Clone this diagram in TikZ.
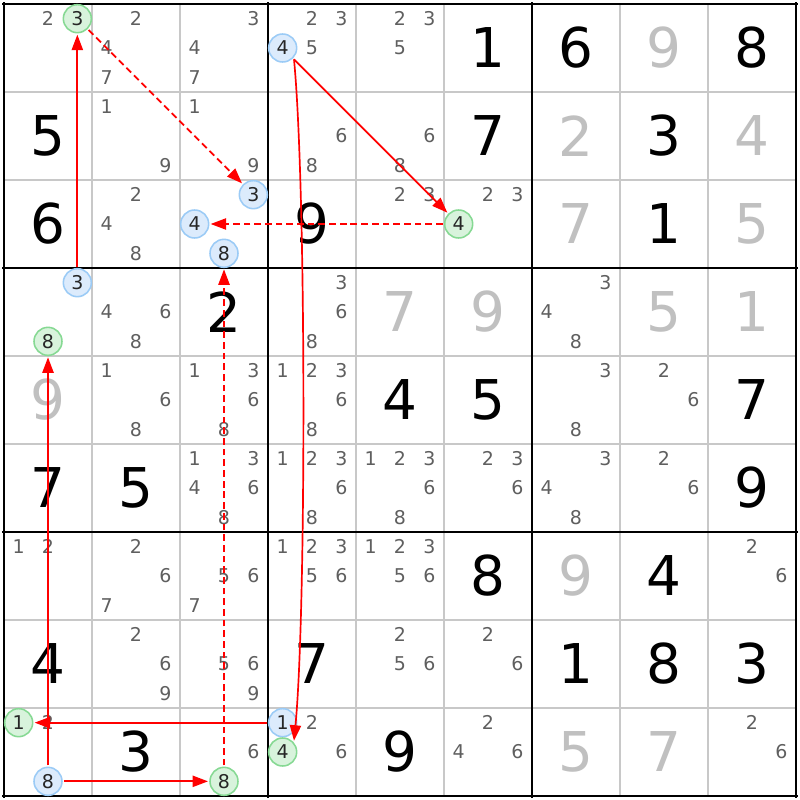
\documentclass[tikz,border=0pt]{standalone}
\usepackage{fontspec}
\setmainfont{DejaVu Sans}
\usepackage{tikz}
\usetikzlibrary{arrows.meta, calc}
\definecolor{candgrey}{HTML}{5F5F5F}
\definecolor{solvedgrey}{HTML}{C0C0C0}
\definecolor{gridgrey}{HTML}{C8C8C8}
\definecolor{ringgreen}{HTML}{86D993}
\definecolor{fillgreen}{HTML}{D8F3DC}
\definecolor{ringblue}{HTML}{9BCBF6}
\definecolor{fillblue}{HTML}{DCEBFC}
\tikzset{
  cand/.style={font=\fontsize{13.5}{13.5}\selectfont, text=candgrey, inner sep=0pt},
  bigdigit/.style={font=\fontsize{39}{39}\selectfont, inner sep=0pt},
  greydigit/.style={bigdigit, text=solvedgrey},
  ring/.style={circle, line width=1.1pt, minimum size=0.7cm, inner sep=0pt,
    outer sep=0.05cm, text=black!85, font=\fontsize{13.5}{13.5}\selectfont},
  greenring/.style={ring, draw=ringgreen, fill=fillgreen},
  bluering/.style={ring, draw=ringblue, fill=fillblue},
  link/.style={red, line width=1.2pt},
  weaklink/.style={link, dash pattern=on 4.8pt off 2.8pt}
}
% row, column, list of candidates
\newcommand{\cands}[3]{%
  \foreach \cd in {#3}{%
    \pgfmathsetmacro{\cx}{#2-1+(mod(\cd-1,3)+0.5)/3}%
    \pgfmathsetmacro{\cy}{#1-1+(floor((\cd-1)/3)+0.5)/3}%
    \node[cand] (c#1#2n\cd) at (\cx,\cy) {\cd};%
  }}
% style, row, column, candidate
\newcommand{\hlcand}[4]{%
  \pgfmathsetmacro{\cx}{#3-1+(mod(#4-1,3)+0.5)/3}%
  \pgfmathsetmacro{\cy}{#2-1+(floor((#4-1)/3)+0.5)/3}%
  \node[#1] (r#2c#3n#4) at (\cx,\cy) {#4};}
\newcommand{\givendigit}[3]{\node[bigdigit] (g#1#2) at (#2-0.5,#1-0.5) {#3};}
\newcommand{\solveddigit}[3]{\node[greydigit] (s#1#2) at (#2-0.5,#1-0.5) {#3};}

\begin{document}
\begin{tikzpicture}[x=2.2cm, y=-2.2cm, >={Triangle[length=11pt,width=8pt]}]
        \useasboundingbox (-0.0455,-0.0455) rectangle (9.0455,9.0455);
        \fill[white] (-0.0455,-0.0455) rectangle (9.0455,9.0455);

        % grid
        \foreach \i in {1,2,4,5,7,8} {
            \draw[gridgrey, line width=1pt] (\i,0) -- (\i,9);
            \draw[gridgrey, line width=1pt] (0,\i) -- (9,\i);
        }
        \foreach \i in {0,3,6,9} {
            \draw[black, line width=2.1pt] (\i,-0.02) -- (\i,9.02);
            \draw[black, line width=2.1pt] (-0.02,\i) -- (9.02,\i);
        }

        % row 1
        \cands{1}{1}{2}
        \cands{1}{2}{2,4,7}
        \cands{1}{3}{3,4,7}
        \cands{1}{4}{2,3,5}
        \cands{1}{5}{2,3,5}
        \givendigit{1}{6}{1}
        \givendigit{1}{7}{6} \solveddigit{1}{8}{9} \givendigit{1}{9}{8}
        % row 2
        \givendigit{2}{1}{5}
        \cands{2}{2}{1,9}
        \cands{2}{3}{1,9}
        \cands{2}{4}{6,8}
        \cands{2}{5}{6,8}
        \givendigit{2}{6}{7}
        \solveddigit{2}{7}{2} \givendigit{2}{8}{3} \solveddigit{2}{9}{4}
        % row 3
        \givendigit{3}{1}{6}
        \cands{3}{2}{2,4,8}
        \givendigit{3}{4}{9}
        \cands{3}{5}{2,3}
        \cands{3}{6}{2,3}
        \solveddigit{3}{7}{7} \givendigit{3}{8}{1} \solveddigit{3}{9}{5}
        % row 4
        \cands{4}{2}{4,6,8}
        \givendigit{4}{3}{2}
        \cands{4}{4}{3,6,8}
        \solveddigit{4}{5}{7} \solveddigit{4}{6}{9}
        \cands{4}{7}{3,4,8}
        \solveddigit{4}{8}{5} \solveddigit{4}{9}{1}
        % row 5
        \solveddigit{5}{1}{9}
        \cands{5}{2}{1,6,8}
        \cands{5}{3}{1,3,6,8}
        \cands{5}{4}{1,2,3,6,8}
        \givendigit{5}{5}{4} \givendigit{5}{6}{5}
        \cands{5}{7}{3,8}
        \cands{5}{8}{2,6}
        \givendigit{5}{9}{7}
        % row 6
        \givendigit{6}{1}{7} \givendigit{6}{2}{5}
        \cands{6}{3}{1,3,4,6,8}
        \cands{6}{4}{1,2,3,6,8}
        \cands{6}{5}{1,2,3,6,8}
        \cands{6}{6}{2,3,6}
        \cands{6}{7}{3,4,8}
        \cands{6}{8}{2,6}
        \givendigit{6}{9}{9}
        % row 7
        \cands{7}{1}{1,2}
        \cands{7}{2}{2,6,7}
        \cands{7}{3}{5,6,7}
        \cands{7}{4}{1,2,3,5,6}
        \cands{7}{5}{1,2,3,5,6}
        \givendigit{7}{6}{8}
        \solveddigit{7}{7}{9} \givendigit{7}{8}{4}
        \cands{7}{9}{2,6}
        % row 8
        \givendigit{8}{1}{4}
        \cands{8}{2}{2,6,9}
        \cands{8}{3}{5,6,9}
        \givendigit{8}{4}{7}
        \cands{8}{5}{2,5,6}
        \cands{8}{6}{2,6}
        \givendigit{8}{7}{1} \givendigit{8}{8}{8} \givendigit{8}{9}{3}
        % row 9
        \cands{9}{1}{2}
        \givendigit{9}{2}{3}
        \cands{9}{3}{6}
        \cands{9}{4}{2,6}
        \givendigit{9}{5}{9}
        \cands{9}{6}{2,4,6}
        \solveddigit{9}{7}{5} \solveddigit{9}{8}{7}
        \cands{9}{9}{2,6}

        % highlighted candidates
        \hlcand{greenring}{1}{1}{3}
        \hlcand{bluering}{1}{4}{4}
        \hlcand{bluering}{3}{3}{3}
        \hlcand{bluering}{3}{3}{4}
        \hlcand{bluering}{3}{3}{8}
        \hlcand{greenring}{3}{6}{4}
        \hlcand{bluering}{4}{1}{3}
        \hlcand{greenring}{4}{1}{8}
        \hlcand{greenring}{9}{1}{1}
        \hlcand{bluering}{9}{1}{8}
        \hlcand{greenring}{9}{3}{8}
        \hlcand{bluering}{9}{4}{1}
        \hlcand{greenring}{9}{4}{4}

        % chains
        \draw[link, ->] (r4c1n3) -- (r1c1n3);
        \draw[weaklink, ->] (r1c1n3) -- (r3c3n3);
        \draw[weaklink, ->] (r3c6n4) -- (r3c3n4);
        \draw[link, ->] (r1c4n4) -- (r3c6n4);
        \draw[link, ->] (r1c4n4.-45) .. controls +(0.14,1.45) and +(0.14,-1.45) .. (r9c4n4.45);
        \draw[link, ->] (r9c4n1) -- (r9c1n1);
        \draw[link, ->] (r9c1n8) -- (r4c1n8);
        \draw[link, ->] (r9c1n8) -- (r9c3n8);
        \draw[weaklink, ->] (r9c3n8) -- (r3c3n8);
\end{tikzpicture}
\end{document}
